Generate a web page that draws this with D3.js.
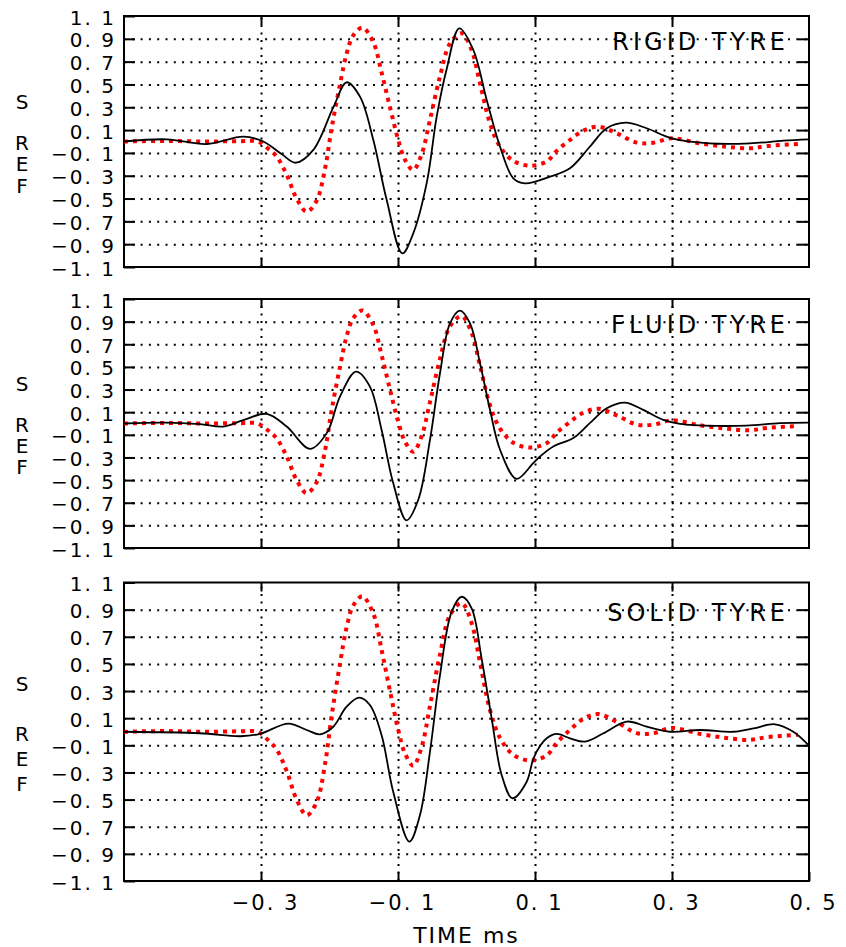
<!DOCTYPE html>
<html>
<head>
<meta charset="utf-8">
<script src="https://cdn.jsdelivr.net/npm/d3@7"></script>
<style>
  body { margin: 0; background: #fff; }
  text { font-family: "DejaVu Sans", sans-serif; fill: #000; }
</style>
</head>
<body>
<script>
// reference signal (red dotted), the same in all three panels
var refSignal = [
  [-0.5, 0.0], [-0.44, 0.005], [-0.38, 0.0], [-0.33, 0.003], [-0.305, 0.0],
  [-0.29, -0.06], [-0.277, -0.133], [-0.2625, -0.29], [-0.248, -0.5], [-0.2333, -0.615],
  [-0.2188, -0.52], [-0.2066, -0.24], [-0.1968, 0.12], [-0.1847, 0.5], [-0.175, 0.77],
  [-0.1653, 0.93], [-0.152, 0.998], [-0.136, 0.87], [-0.1238, 0.6], [-0.1117, 0.3],
  [-0.0996, 0.013], [-0.0898, -0.16], [-0.0777, -0.25], [-0.0654, -0.11], [-0.0533, 0.19],
  [-0.0387, 0.57], [-0.024, 0.86], [-0.007, 0.948], [0.0075, 0.8], [0.0197, 0.51],
  [0.0343, 0.16], [0.049, -0.046], [0.0684, -0.17], [0.0927, -0.212], [0.117, -0.175],
  [0.132, -0.08], [0.151, 0.013], [0.1705, 0.095], [0.1924, 0.13], [0.2193, 0.072],
  [0.2485, -0.01], [0.273, -0.01], [0.2995, 0.028], [0.341, -0.016], [0.38, -0.046],
  [0.414, -0.06], [0.438, -0.04], [0.484, -0.022]
];

var rigidTyre = [
  [-0.5, 0.0], [-0.4377, 0.019], [-0.379, -0.022], [-0.3258, 0.042], [-0.2966, 0.0],
  [-0.27, -0.11], [-0.249, -0.186], [-0.2236, -0.074], [-0.194, 0.305], [-0.175, 0.519],
  [-0.1555, 0.393], [-0.136, 0.013], [-0.1165, -0.513], [-0.0937, -0.98], [-0.0777, -0.805],
  [-0.058, -0.361], [-0.0435, 0.218], [-0.029, 0.633], [-0.0105, 0.992], [0.01, 0.802],
  [0.0295, 0.364], [0.049, -0.046], [0.0684, -0.323], [0.0854, -0.367], [0.1219, -0.308],
  [0.151, -0.235], [0.18, -0.046], [0.2047, 0.116], [0.2328, 0.165], [0.263, 0.116],
  [0.2995, 0.028], [0.355, -0.016], [0.414, -0.016], [0.4625, 0.007], [0.5, 0.019]
];

var fluidTyre = [
  [-0.5, 0.0], [-0.44, 0.008], [-0.389, -0.006], [-0.355, -0.027], [-0.3258, 0.03],
  [-0.2917, 0.085], [-0.2625, -0.027], [-0.2285, -0.224], [-0.204, -0.085], [-0.1847, 0.238],
  [-0.1613, 0.458], [-0.141, 0.326], [-0.124, -0.056], [-0.107, -0.526], [-0.0876, -0.856],
  [-0.0704, -0.674], [-0.0533, -0.145], [-0.0387, 0.444], [-0.024, 0.886], [-0.0095, 0.997],
  [0.005, 0.886], [0.0197, 0.533], [0.0343, 0.121], [0.049, -0.232], [0.073, -0.489],
  [0.0974, -0.35], [0.1073, -0.292], [0.1267, -0.203], [0.156, -0.129], [0.18, 0.003],
  [0.2047, 0.135], [0.2314, 0.185], [0.258, 0.12], [0.2874, 0.032], [0.3117, -0.003],
  [0.365, -0.021], [0.409, -0.018], [0.4577, 0.003], [0.5, 0.008]
];

var solidTyre = [
  [-0.5, 0.0], [-0.389, -0.011], [-0.33, -0.033], [-0.3015, -0.015], [-0.26, 0.06],
  [-0.2333, 0.013], [-0.2139, -0.019], [-0.1945, 0.037], [-0.175, 0.185], [-0.1566, 0.251],
  [-0.141, 0.197], [-0.124, -0.024], [-0.107, -0.442], [-0.0834, -0.81], [-0.0679, -0.614],
  [-0.0533, -0.147], [-0.0387, 0.418], [-0.0216, 0.885], [-0.007, 0.995], [0.0075, 0.91],
  [0.022, 0.541], [0.0367, 0.099], [0.0513, -0.319], [0.067, -0.49], [0.0877, -0.37],
  [0.0975, -0.2], [0.108, -0.1], [0.118, -0.045], [0.1316, -0.016], [0.151, -0.048],
  [0.173, -0.073], [0.2, -0.011], [0.234, 0.075], [0.263, 0.038], [0.297, 0.0],
  [0.341, 0.013], [0.3895, 0.0], [0.419, 0.025], [0.4504, 0.055], [0.4771, 0.0], [0.5, -0.103]
];

var titles = ["RIGID TYRE", "FLUID TYRE", "SOLID TYRE"];
var yTicks = [1.1, 0.9, 0.7, 0.5, 0.3, 0.1, -0.1, -0.3, -0.5, -0.7, -0.9, -1.1];
var yGrid = [0.9, 0.7, 0.5, 0.3, 0.1, -0.1, -0.3, -0.5, -0.7, -0.9];
var xGrid = [-0.3, -0.1, 0.1, 0.3];
var xTicks = [-0.3, -0.1, 0.1, 0.3, 0.5];

var width = 846, height = 947;
var left = 124, right = 809;
var panels = [
  {top: 16, bottom: 267, data: rigidTyre},
  {top: 299, bottom: 548, data: fluidTyre},
  {top: 582.5, bottom: 881, data: solidTyre}
];

var svg = d3.select("body").append("svg")
  .attr("width", width)
  .attr("height", height);

var x = d3.scaleLinear().domain([-0.5, 0.5]).range([left, right]);
var fmt = function(d) { return d3.format(".1f")(d).replace(".", ". "); };

panels.forEach(function(p, i) {
  var y = d3.scaleLinear().domain([-1.1, 1.1]).range([p.bottom, p.top]);
  var g = svg.append("g");
  var w = right - left;

  // dotted grid
  g.append("g").attr("transform", "translate(" + left + ",0)")
    .call(d3.axisLeft(y).tickValues(yGrid).tickSize(-w).tickFormat(""))
    .call(function(s) {
      s.select(".domain").remove();
      s.selectAll("line").attr("stroke", "#000").attr("stroke-width", 2).attr("stroke-dasharray", "2,6.3");
    });
  g.append("g").attr("transform", "translate(0," + p.bottom + ")")
    .call(d3.axisBottom(x).tickValues(xGrid).tickSize(-(p.bottom - p.top)).tickFormat(""))
    .call(function(s) {
      s.select(".domain").remove();
      s.selectAll("line").attr("stroke", "#000").attr("stroke-width", 2).attr("stroke-dasharray", "2,5.5");
    });

  // inward ticks on all four sides
  g.append("g").attr("transform", "translate(" + left + ",0)")
    .call(d3.axisLeft(y).tickValues(yTicks).tickSizeInner(-11).tickSizeOuter(0).tickPadding(8).tickFormat(fmt))
    .call(function(s) {
      s.select(".domain").remove();
      s.selectAll("line").attr("stroke", "#000").attr("stroke-width", 2);
      s.selectAll("text").attr("font-size", 20).attr("letter-spacing", 2)
        .attr("font-family", "DejaVu Sans").attr("dy", "0.4em");
    });
  g.append("g").attr("transform", "translate(" + right + ",0)")
    .call(d3.axisRight(y).tickValues(yGrid).tickSizeInner(-11).tickSizeOuter(0).tickFormat(""))
    .call(function(s) {
      s.select(".domain").remove();
      s.selectAll("line").attr("stroke", "#000").attr("stroke-width", 2);
    });
  g.append("g").attr("transform", "translate(0," + p.top + ")")
    .call(d3.axisTop(x).tickValues(xGrid).tickSizeInner(-9).tickSizeOuter(0).tickFormat(""))
    .call(function(s) {
      s.select(".domain").remove();
      s.selectAll("line").attr("stroke", "#000").attr("stroke-width", 2);
    });
  var bottomAxis = d3.axisBottom(x).tickSizeInner(-9).tickSizeOuter(0);
  if (i == 2) {
    bottomAxis.tickValues(xTicks).tickPadding(14).tickFormat(fmt);
  } else {
    bottomAxis.tickValues(xGrid).tickFormat("");
  }
  g.append("g").attr("transform", "translate(0," + p.bottom + ")")
    .call(bottomAxis)
    .call(function(s) {
      s.select(".domain").remove();
      s.selectAll("line").attr("stroke", "#000").attr("stroke-width", 2);
      s.selectAll("text").attr("font-size", 21).attr("letter-spacing", 2)
        .attr("font-family", "DejaVu Sans").attr("dx", 4);
    });

  // frame
  g.append("rect")
    .attr("x", left).attr("y", p.top)
    .attr("width", w).attr("height", p.bottom - p.top)
    .attr("fill", "none").attr("stroke", "#000").attr("stroke-width", 2);

  var line = d3.line()
    .x(function(d) { return x(d[0]); })
    .y(function(d) { return y(d[1]); })
    .curve(d3.curveCatmullRom.alpha(0.5));

  g.append("path").datum(refSignal)
    .attr("d", line)
    .attr("fill", "none").attr("stroke", "#ff0000")
    .attr("stroke-width", 4).attr("stroke-dasharray", "4,5");

  g.append("path").datum(p.data)
    .attr("d", line)
    .attr("fill", "none").attr("stroke", "#000")
    .attr("stroke-width", 1.8);

  // title inside the panel
  g.append("text")
    .attr("x", right - 20).attr("y", y(0.9) + 11)
    .attr("text-anchor", "end")
    .attr("font-size", 24).attr("letter-spacing", 4)
    .text(titles[i]);

  // S REF label, REF written downwards
  var fs = 20;
  g.append("text")
    .attr("x", 22).attr("y", y(0.35))
    .attr("dy", "0.36em")
    .attr("text-anchor", "middle")
    .attr("font-size", fs)
    .text("S");
  var step = y(-0.19) - y(-0.01);
  g.append("text")
    .attr("x", 22).attr("y", y(-0.01) - 0.58 * fs)
    .attr("font-size", fs)
    .style("writing-mode", "vertical-rl")
    .style("text-orientation", "upright")
    .attr("letter-spacing", step - 1.164 * fs)
    .text("REF");
});

svg.append("text")
  .attr("x", (left + right) / 2).attr("y", 943)
  .attr("text-anchor", "middle")
  .attr("font-size", 22).attr("letter-spacing", 2)
  .text("TIME ms");
</script>
</body>
</html>
